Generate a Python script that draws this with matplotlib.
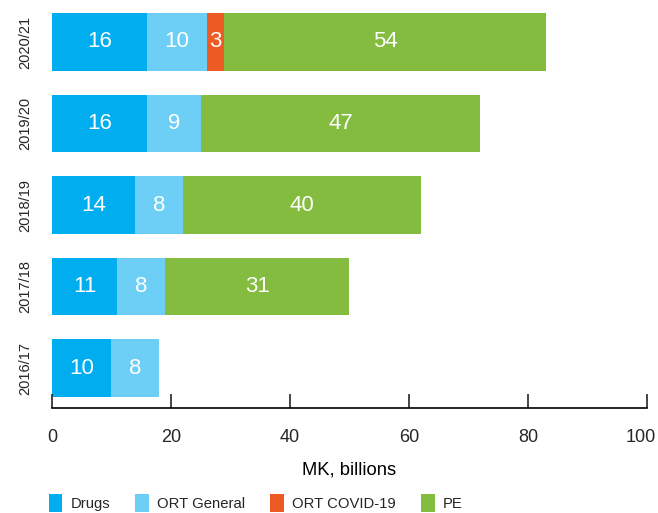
import numpy as np
import matplotlib.pyplot as plt
from matplotlib.patches import Patch
from matplotlib.transforms import ScaledTranslation

# Spending by year, MK billions
years = ['2016/17', '2017/18', '2018/19', '2019/20', '2020/21']
drugs = [10, 11, 14, 16, 16]
ort_general = [8, 8, 8, 9, 10]
ort_covid = [0, 0, 0, 0, 3]
pe = [0, 31, 40, 47, 54]

series = [
    ('Drugs', drugs, '#00aeef'),
    ('ORT General', ort_general, '#6dcff6'),
    ('ORT COVID-19', ort_covid, '#ee5a24'),
    ('PE', pe, '#84bc3f'),
]

plt.rcParams['font.family'] = ['Liberation Sans', 'DejaVu Sans']
plt.rcParams['text.color'] = '#262626'
plt.rcParams['xtick.color'] = '#262626'
plt.rcParams['ytick.color'] = '#262626'

fig = plt.figure(figsize=(6.58, 5.13), dpi=100)
ax = fig.add_axes([0.079, 0.2047, 0.904, 0.777])

y = np.arange(len(years))
left = np.zeros(len(years))
for name, vals, color in series:
    vals = np.array(vals, dtype=float)
    ax.barh(y, vals, left=left, height=0.71, color=color, label=name)
    for yi, l, v in zip(y, left, vals):
        if v > 0:
            ax.text(l + v / 2, yi, f'{v:g}', ha='center', va='center',
                    color='white', fontsize=16)
    left += vals

ax.set_xlim(0, 100)
ax.set_ylim(-0.49, len(years) - 1 + 0.40)
ax.set_xticks([0, 20, 40, 60, 80, 100])
ax.set_yticks(y)
ax.set_yticklabels(years, rotation=90, va='center', fontsize=10.5)
ax.tick_params(axis='x', direction='in', length=10, width=1.2, pad=15, labelsize=13)
ax.tick_params(axis='y', length=0, pad=14)
for s in ['top', 'right', 'left']:
    ax.spines[s].set_visible(False)
ax.spines['bottom'].set_linewidth(1.2)
ax.set_xlabel('MK, billions', fontsize=13.2, labelpad=11)

# keep the last tick label inside the figure
last = ax.get_xticklabels()[-1]
last.set_transform(last.get_transform() + ScaledTranslation(-6 / 100, 0, fig.dpi_scale_trans))

handles = [Patch(facecolor=c, label=n) for n, _, c in series]
fig.legend(handles=handles, loc='center left', bbox_to_anchor=(0.0647, 0.019), ncol=4,
           frameon=False, borderaxespad=0, handlelength=0.94, handleheight=1.45,
           handletextpad=0.54, columnspacing=1.68, prop={'size': 10.7})

fig.savefig('out.png', dpi=100)
